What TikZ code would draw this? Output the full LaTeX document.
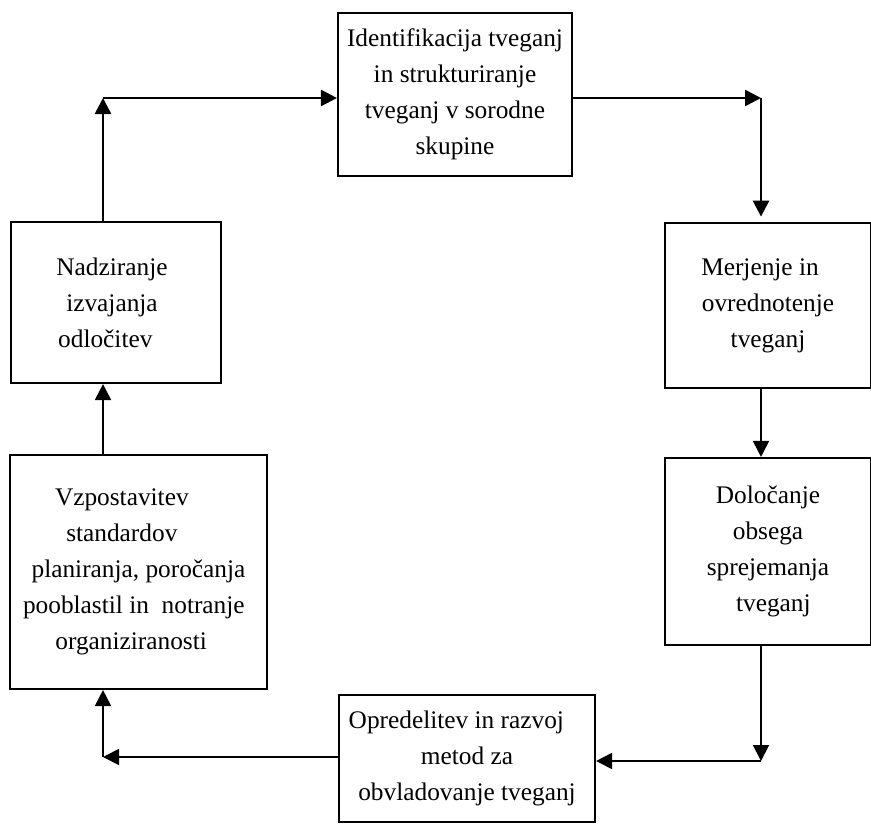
\documentclass[tikz,border=0pt]{standalone}
\usepackage{fontspec}
\setmainfont{Liberation Serif}
\usetikzlibrary{arrows.meta}
\newcommand\pxu{0.75pt}
\begin{document}
\begin{tikzpicture}[x=0.75pt,y=-0.75pt,
  box/.style={draw, line width=1.6pt, rectangle, inner sep=0pt, align=center,
    font=\fontsize{19}{27}\selectfont},
  arr/.style={line width=1.4pt, -{Triangle[length=12pt,width=12pt]}},
  tarr/.style={line width=2pt, -{Triangle[length=12pt,width=12pt]}}]
\useasboundingbox (0,0) rectangle (871,824);
\node[box, minimum width=234*\pxu, minimum height=163*\pxu] (ident) at (455,94.5)
  {Identifikacija tveganj\\in strukturiranje\\tveganj v sorodne\\skupine};
\node[box, minimum width=206*\pxu, minimum height=165*\pxu] (merj) at (768,305.5)
  {Merjenje in\kern12pt\\ovrednotenje\\tveganj};
\node[box, minimum width=206*\pxu, minimum height=187*\pxu] (dol) at (768,551.5)
  {Določanje\\obsega\\sprejemanja\\\hspace*{8pt}tveganj};
\node[box, minimum width=256*\pxu, minimum height=127*\pxu] (opr) at (467,758.5)
  {Opredelitev in razvoj\kern16pt\\metod za\\obvladovanje tveganj};
\node[box, minimum width=210*\pxu, minimum height=161*\pxu] (nadz) at (116,302.5)
  {Nadziranje\kern6pt\\izvajanja\kern6pt\\odločitev\kern16pt};
\node[box, minimum width=257*\pxu, minimum height=234*\pxu] (vzp) at (138.5,572)
  {Vzpostavitev\kern25pt\\standardov\kern25pt\\planiranja, poročanja\\pooblastil in~~notranje\kern7pt\\organiziranosti\kern11pt};
\coordinate (c1) at (103,98);
\coordinate (c2) at (761,98);
\coordinate (c3) at (761,761);
\coordinate (c4) at (103,757);
\draw[tarr] (c1 |- nadz.north) -- (c1);
\draw[tarr] (c1) -- (ident.west |- c1);
\draw[tarr] (ident.east |- c2) -- (c2);
\draw[tarr, shorten >=4pt] (c2) -- (c2 |- merj.north);
\draw[arr] (c2 |- merj.south) -- (c2 |- dol.north);
\draw[arr] (c2 |- dol.south) -- (c3);
\draw[arr] (c3) -- (opr.east |- c3);
\draw[arr] (opr.west |- c4) -- (c4);
\draw[arr] (c4) -- (c4 |- vzp.south);
\draw[arr] (c4 |- vzp.north) -- (c4 |- nadz.south);
\end{tikzpicture}
\end{document}
